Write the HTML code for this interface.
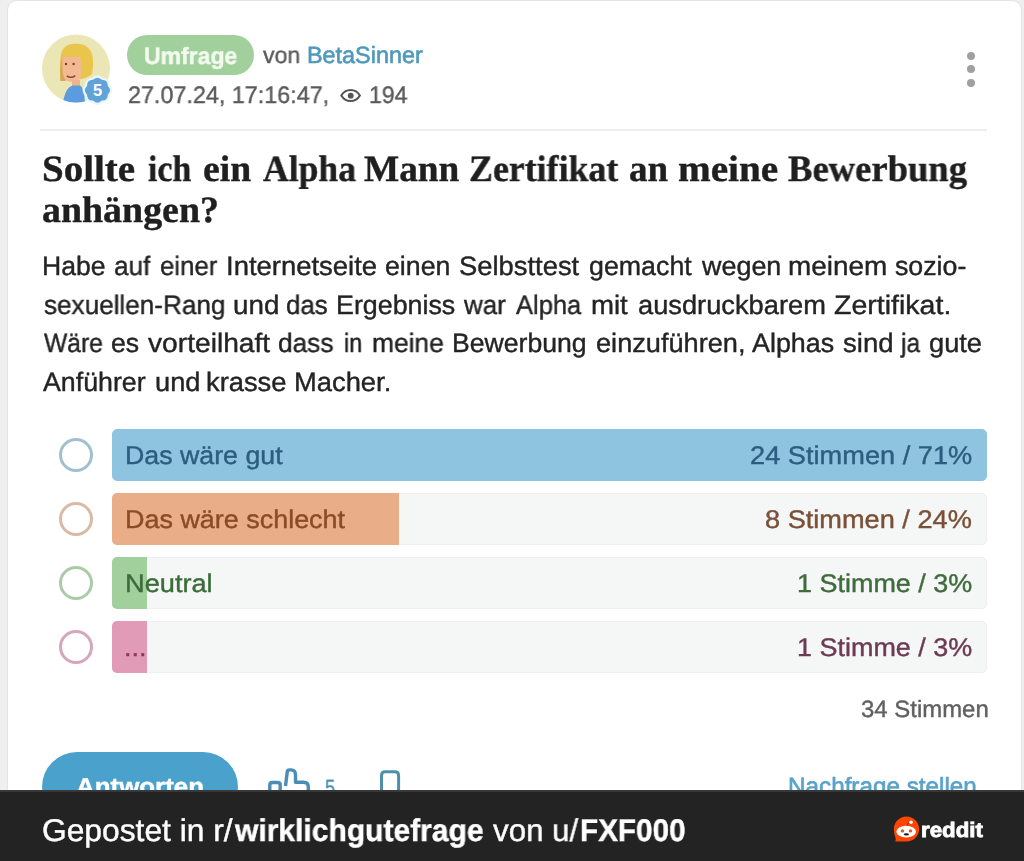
<!DOCTYPE html>
<html><head><meta charset="utf-8">
<style>
*{margin:0;padding:0;box-sizing:border-box}
html,body{width:1024px;height:861px;overflow:hidden;background:#efefef;font-family:"Liberation Sans",sans-serif;-webkit-font-smoothing:antialiased}
.abs{position:absolute;white-space:nowrap}
#card{position:absolute;left:7px;top:0px;width:1015px;height:900px;background:#fff;border:1px solid #e4e4e4;border-radius:10px}
.pill{position:absolute;left:127px;top:35px;width:127px;height:40px;border-radius:20px;background:#a2d09d}
.t{position:absolute;white-space:nowrap;line-height:1;transform-origin:0 0;will-change:transform;-webkit-text-stroke-width:0.4px;text-rendering:geometricPrecision}
.sep{position:absolute;left:40px;top:129px;width:947px;height:2px;background:#ededed}
.bar{position:absolute;left:112px;width:875px;height:52px;border-radius:5px;background:#f5f6f6;border:1px solid #efefef}
.fill{position:absolute;left:112px;height:52px;border-radius:5px 0 0 5px}
.circ{position:absolute;left:59px;width:34px;height:34px;border-radius:50%;border:3px solid}
.dot{position:absolute;left:967px;width:8px;height:8px;border-radius:50%;background:#a0a0a0}
#bottom{position:absolute;left:0;top:790px;width:1024px;height:71px;background:#232323;border-top:2px solid #383838;z-index:5}
#t_bot,#t_red,#rlogo{z-index:6}
</style></head><body>
<div id="card"></div>

<!-- avatar -->
<svg class="abs" style="left:40px;top:33px" width="74" height="74" viewBox="40 33 74 74">
  <defs><clipPath id="cc"><circle cx="76" cy="68.5" r="34"/></clipPath></defs>
  <circle cx="76" cy="68.5" r="34" fill="#ebe6b6"/>
  <g clip-path="url(#cc)">
  <path d="M60.5 81 C59.5 70 59.5 58 62 51 C65 45 71 43.5 77 43.8 C85 44 91 48 92.5 56 C93.5 62 93 69 92 74 C89 77 85 78 81 79 Z" fill="#e9c54c"/>
  <path d="M60.5 81 C60 72 60.5 62 62.5 57 L64 58 C63 66 63.5 74 65.5 81 Z" fill="#d5a655"/>
  <path d="M62.5 57 L80 57 C81.5 63 82 70 81 76 C79.5 80 76 82 72 82 C67 82 63.5 79 62.8 73 C62.3 68 62.2 62 62.5 57 Z" fill="#f2b995"/>
  <rect x="72" y="80" width="8" height="7" fill="#eeb48e"/>
  <path d="M63 104 C64 94 67 87 73 85.5 L80 85.5 C83 87 84.5 93 85 104 Z" fill="#5b9be0"/>
  <circle cx="66" cy="64" r="1.2" fill="#7a4028"/>
  <circle cx="73.6" cy="64" r="1.2" fill="#7a4028"/>
  <path d="M66.8 75.8 Q71 79 75.2 75.6" stroke="#8b4a2a" stroke-width="1.5" fill="none"/>
  </g>
  <!-- badge -->
  <path d="M102.15 78.74 Q108.71 78.89 108.86 85.45 Q113.40 90.20 108.86 94.95 Q108.71 101.51 102.15 101.66 Q97.40 106.20 92.65 101.66 Q86.09 101.51 85.94 94.95 Q81.40 90.20 85.94 85.45 Q86.09 78.89 92.65 78.74 Q97.40 74.20 102.15 78.74Z" stroke-linejoin="round" fill="#5fa3d8" stroke="#eaf6fc" stroke-width="2.2"/>
  <text x="97.5" y="96.4" text-anchor="middle" font-family="Liberation Sans" font-weight="bold" font-size="16.5" fill="#fff">5</text>
</svg>

<div class="pill"></div>
<svg class="abs" style="left:335px;top:85px" width="30" height="22" viewBox="335 85 30 22">
  <path d="M341.3 95.6 C343.5 91.8 346.8 90.1 350.6 90.1 C354.4 90.1 357.7 91.8 359.9 95.6 C357.7 99.4 354.4 101.1 350.6 101.1 C346.8 101.1 343.5 99.4 341.3 95.6Z" fill="none" stroke="#555" stroke-width="2"/>
  <circle cx="350.7" cy="95.7" r="2.9" fill="#555"/>
</svg>

<!-- kebab -->
<div class="dot" style="top:51.5px"></div>
<div class="dot" style="top:65.4px"></div>
<div class="dot" style="top:79px"></div>

<div class="sep"></div>

<!-- poll -->
<div class="circ" style="top:438px;border-color:#9fc0d1"></div>
<div class="bar" style="top:429px;background:#8fc4e1;border-color:#8fc4e1"></div>

<div class="circ" style="top:502px;border-color:#dbbaa4"></div>
<div class="bar" style="top:493px"></div>
<div class="fill" style="top:493px;width:287px;background:#e9ae88"></div>

<div class="circ" style="top:566px;border-color:#aacba7"></div>
<div class="bar" style="top:557px"></div>
<div class="fill" style="top:557px;width:35px;background:#a1d09c"></div>

<div class="circ" style="top:630px;border-color:#d6a6ba"></div>
<div class="bar" style="top:621px"></div>
<div class="fill" style="top:621px;width:35px;background:#e19bb6"></div>

<!-- actions -->
<div class="abs" style="left:42px;top:752px;width:196px;height:70px;border-radius:35px;background:#4aa1cc"></div>
<svg class="abs" style="left:260px;top:760px" width="60" height="32" viewBox="260 760 60 32">
  <path d="M269.8 792 L269.8 785 Q269.8 782.5 272.5 782.5 L277.5 782.5 Q280.2 782.5 280.2 785 L280.2 792" fill="none" stroke="#4a8db5" stroke-width="3.4"/>
  <path d="M285.5 786 L287.3 771.5 Q287.5 769.9 289.5 769.9 L291 769.9 Q295.5 769.9 295.5 775 L295.5 782.3 L303.5 782.3 Q308.3 782.3 308.3 787 L308.3 792" fill="none" stroke="#4a8db5" stroke-width="3.4" stroke-linejoin="round"/>
</svg>
<svg class="abs" style="left:375px;top:765px" width="30" height="27" viewBox="375 765 30 27">
  <path d="M381.5 792 L381.5 775.5 Q381.5 771.7 385.3 771.7 L394.8 771.7 Q398.6 771.7 398.6 775.5 L398.6 792" fill="none" stroke="#4f8fae" stroke-width="3"/>
</svg>

<div id="bottom"></div>
<svg id="rlogo" class="abs" style="left:888px;top:810px" width="38" height="36" viewBox="888 810 38 36">
  <path d="M906.5 816.4 C913.5 816.4 919.1 822 919.1 829 C919.1 836 913.5 841.6 906.5 841.6 L895.2 841.6 Q896 839.5 895.5 837.5 C894.4 835 893.9 832 893.9 829 C893.9 822 899.5 816.4 906.5 816.4 Z" fill="#ff4500"/>
  <path d="M906.5 826.5 L908 823 L910.5 822.6" stroke="#a02a00" stroke-width="1" fill="none"/>
  <ellipse cx="906.2" cy="831.7" rx="9.8" ry="5.9" fill="#fff"/>
  <circle cx="902.4" cy="830.9" r="1.7" fill="#e0502a"/>
  <circle cx="910.4" cy="830.9" r="1.7" fill="#e0502a"/>
  <ellipse cx="906.4" cy="834.4" rx="2.6" ry="1.1" fill="#1a1a1a"/>
  <circle cx="911" cy="822.3" r="1.8" fill="#fff"/>
</svg>

<div id="t_umf" class="t" style="left:144.04px;top:46.00px;font-size:23.60px;transform:scaleX(0.9746);font-weight:bold;color:#f3fbef">Umfrage</div>
<div id="t_von1" class="t" style="left:263.09px;top:44.00px;font-size:23.40px;transform:scaleX(0.9838);color:#5a5a5a">von</div>
<div id="t_von2" class="t" style="left:307.03px;top:44.00px;font-size:23.40px;transform:scaleX(0.9979);color:#4f99bb;-webkit-text-stroke:0.6px #4f99bb">BetaSinner</div>
<div id="t_date" class="t" style="left:127.81px;top:84.00px;font-size:23.90px;transform:scaleX(0.9768);color:#5a5a5a">27.07.24, 17:16:47,</div>
<div id="t_194" class="t" style="left:368.64px;top:84.00px;font-size:23.90px;transform:scaleX(0.9666);color:#5a5a5a">194</div>
<div id="t_ti1_w0" class="t" style="left:42.02px;top:151.00px;font-size:37.00px;transform:scaleX(1.0542);font-family:Liberation Serif,serif;font-weight:bold;color:#1f1f1f">Sollte</div>
<div id="t_ti1_w1" class="t" style="left:148.28px;top:151.00px;font-size:37.00px;transform:scaleX(0.9148);font-family:Liberation Serif,serif;font-weight:bold;color:#1f1f1f">ich</div>
<div id="t_ti1_w2" class="t" style="left:203.47px;top:151.00px;font-size:37.00px;transform:scaleX(1.0190);font-family:Liberation Serif,serif;font-weight:bold;color:#1f1f1f">ein</div>
<div id="t_ti1_w3" class="t" style="left:262.50px;top:151.00px;font-size:37.00px;transform:scaleX(0.9620);font-family:Liberation Serif,serif;font-weight:bold;color:#1f1f1f">Alpha</div>
<div id="t_ti1_w4" class="t" style="left:363.50px;top:151.00px;font-size:37.00px;transform:scaleX(1.0082);font-family:Liberation Serif,serif;font-weight:bold;color:#1f1f1f">Mann</div>
<div id="t_ti1_w5" class="t" style="left:469.33px;top:151.00px;font-size:37.00px;transform:scaleX(0.9687);font-family:Liberation Serif,serif;font-weight:bold;color:#1f1f1f">Zertifikat</div>
<div id="t_ti1_w6" class="t" style="left:628.69px;top:151.00px;font-size:37.00px;transform:scaleX(0.9986);font-family:Liberation Serif,serif;font-weight:bold;color:#1f1f1f">an</div>
<div id="t_ti1_w7" class="t" style="left:677.67px;top:151.00px;font-size:37.00px;transform:scaleX(1.0606);font-family:Liberation Serif,serif;font-weight:bold;color:#1f1f1f">meine</div>
<div id="t_ti1_w8" class="t" style="left:788.10px;top:151.00px;font-size:37.00px;transform:scaleX(0.9894);font-family:Liberation Serif,serif;font-weight:bold;color:#1f1f1f">Bewerbung</div>
<div id="t_ti2" class="t" style="left:42.02px;top:192.00px;font-size:37.00px;transform:scaleX(1.0243);font-family:Liberation Serif,serif;font-weight:bold;color:#1f1f1f">anhängen?</div>
<div id="t_b1_w0" class="t" style="left:41.72px;top:253.00px;font-size:26.60px;transform:scaleX(0.9958);color:#242424">Habe</div>
<div id="t_b1_w1" class="t" style="left:113.50px;top:253.00px;font-size:26.60px;transform:scaleX(0.9863);color:#242424">auf</div>
<div id="t_b1_w2" class="t" style="left:159.89px;top:253.00px;font-size:26.60px;transform:scaleX(0.9701);color:#242424">einer</div>
<div id="t_b1_w3" class="t" style="left:226.47px;top:253.00px;font-size:26.60px;transform:scaleX(1.0325);color:#242424">Internetseite</div>
<div id="t_b1_w4" class="t" style="left:384.72px;top:253.00px;font-size:26.60px;transform:scaleX(1.0044);color:#242424">einen</div>
<div id="t_b1_w5" class="t" style="left:458.88px;top:253.00px;font-size:26.60px;transform:scaleX(1.0290);color:#242424">Selbsttest</div>
<div id="t_b1_w6" class="t" style="left:589.09px;top:253.00px;font-size:26.60px;transform:scaleX(1.0073);color:#242424">gemacht</div>
<div id="t_b1_w7" class="t" style="left:701.88px;top:253.00px;font-size:26.60px;transform:scaleX(1.0124);color:#242424">wegen</div>
<div id="t_b1_w8" class="t" style="left:788.28px;top:253.00px;font-size:26.60px;transform:scaleX(1.0494);color:#242424">meinem</div>
<div id="t_b1_w9" class="t" style="left:894.50px;top:253.00px;font-size:26.60px;transform:scaleX(1.0051);color:#242424">sozio-</div>
<div id="t_b2_w0" class="t" style="left:43.70px;top:292.00px;font-size:26.60px;transform:scaleX(0.9817);color:#242424">sexuellen-Rang</div>
<div id="t_b2_w1" class="t" style="left:233.06px;top:292.00px;font-size:26.60px;transform:scaleX(1.0445);color:#242424">und</div>
<div id="t_b2_w2" class="t" style="left:286.31px;top:292.00px;font-size:26.60px;transform:scaleX(0.9743);color:#242424">das</div>
<div id="t_b2_w3" class="t" style="left:335.89px;top:292.00px;font-size:26.60px;transform:scaleX(1.0086);color:#242424">Ergebniss</div>
<div id="t_b2_w4" class="t" style="left:464.28px;top:292.00px;font-size:26.60px;transform:scaleX(0.9757);color:#242424">war</div>
<div id="t_b2_w5" class="t" style="left:516.09px;top:292.00px;font-size:26.60px;transform:scaleX(0.9581);color:#242424">Alpha</div>
<div id="t_b2_w6" class="t" style="left:591.47px;top:292.00px;font-size:26.60px;transform:scaleX(1.0376);color:#242424">mit</div>
<div id="t_b2_w7" class="t" style="left:637.88px;top:292.00px;font-size:26.60px;transform:scaleX(1.0248);color:#242424">ausdruckbarem</div>
<div id="t_b2_w8" class="t" style="left:834.48px;top:292.00px;font-size:26.60px;transform:scaleX(1.0728);color:#242424">Zertifikat.</div>
<div id="t_b3_w0" class="t" style="left:43.69px;top:330.00px;font-size:26.60px;transform:scaleX(0.9262);color:#242424">Wäre</div>
<div id="t_b3_w1" class="t" style="left:110.53px;top:330.00px;font-size:26.60px;transform:scaleX(0.9860);color:#242424">es</div>
<div id="t_b3_w2" class="t" style="left:147.89px;top:330.00px;font-size:26.60px;transform:scaleX(1.0596);color:#242424">vorteilhaft</div>
<div id="t_b3_w3" class="t" style="left:278.32px;top:330.00px;font-size:26.60px;transform:scaleX(0.9865);color:#242424">dass</div>
<div id="t_b3_w4" class="t" style="left:343.82px;top:330.00px;font-size:26.60px;transform:scaleX(0.8748);color:#242424">in</div>
<div id="t_b3_w5" class="t" style="left:372.30px;top:330.00px;font-size:26.60px;transform:scaleX(0.9904);color:#242424">meine</div>
<div id="t_b3_w6" class="t" style="left:452.10px;top:330.00px;font-size:26.60px;transform:scaleX(1.0004);color:#242424">Bewerbung</div>
<div id="t_b3_w7" class="t" style="left:595.87px;top:330.00px;font-size:26.60px;transform:scaleX(1.0214);color:#242424">einzuführen,</div>
<div id="t_b3_w8" class="t" style="left:752.09px;top:330.00px;font-size:26.60px;transform:scaleX(1.0101);color:#242424">Alphas</div>
<div id="t_b3_w9" class="t" style="left:842.50px;top:330.00px;font-size:26.60px;transform:scaleX(1.0357);color:#242424">sind</div>
<div id="t_b3_w10" class="t" style="left:900.80px;top:330.00px;font-size:26.60px;transform:scaleX(0.9192);color:#242424">ja</div>
<div id="t_b3_w11" class="t" style="left:928.68px;top:330.00px;font-size:26.60px;transform:scaleX(1.0242);color:#242424">gute</div>
<div id="t_b4_w0" class="t" style="left:43.29px;top:369.00px;font-size:26.60px;transform:scaleX(1.0058);color:#242424">Anführer</div>
<div id="t_b4_w1" class="t" style="left:154.66px;top:369.00px;font-size:26.60px;transform:scaleX(1.0244);color:#242424">und</div>
<div id="t_b4_w2" class="t" style="left:206.48px;top:369.00px;font-size:26.60px;transform:scaleX(1.0269);color:#242424">krasse</div>
<div id="t_b4_w3" class="t" style="left:293.65px;top:369.00px;font-size:26.60px;transform:scaleX(1.0280);color:#242424">Macher.</div>
<div id="t_p1l" class="t" style="left:125.37px;top:444.00px;font-size:25.50px;transform:scaleX(1.0492);color:#2c5d7e">Das wäre gut</div>
<div id="t_p1r" class="t" style="left:750.16px;top:444.00px;font-size:25.50px;transform:scaleX(1.0668);color:#2c5d7e">24 Stimmen / 71%</div>
<div id="t_p2l" class="t" style="left:125.36px;top:508.00px;font-size:25.50px;transform:scaleX(1.0562);color:#8a4b27">Das wäre schlecht</div>
<div id="t_p2r" class="t" style="left:765.16px;top:508.00px;font-size:25.50px;transform:scaleX(1.0652);color:#7a5038">8 Stimmen / 24%</div>
<div id="t_p3l" class="t" style="left:125.34px;top:572.00px;font-size:25.50px;transform:scaleX(1.0663);color:#3b6b39">Neutral</div>
<div id="t_p3r" class="t" style="left:796.93px;top:572.00px;font-size:25.50px;transform:scaleX(1.0570);color:#3f6b3d">1 Stimme / 3%</div>
<div id="t_p4l" class="t" style="left:124.48px;top:636.00px;font-size:25.50px;transform:scaleX(1.0598);color:#8a3a5b">...</div>
<div id="t_p4r" class="t" style="left:796.93px;top:636.00px;font-size:25.50px;transform:scaleX(1.0570);color:#6e3a52">1 Stimme / 3%</div>
<div id="t_tot" class="t" style="left:860.58px;top:699.00px;font-size:23.60px;transform:scaleX(1.0147);color:#606060">34 Stimmen</div>
<div id="t_ant" class="t" style="left:75.59px;top:776.00px;font-size:24.50px;transform:scaleX(1.0570);font-weight:bold;color:#fff">Antworten</div>
<div id="t_5" class="t" style="left:325.04px;top:777.00px;font-size:22.00px;transform:scaleX(0.8264);color:#4b8fb6">5</div>
<div id="t_nach" class="t" style="left:788.36px;top:775.00px;font-size:23.50px;transform:scaleX(1.0322);color:#5aa2c9;-webkit-text-stroke:0.6px #5aa2c9">Nachfrage stellen</div>
<div id="t_bot1" class="t" style="left:41.53px;top:815.00px;font-size:31.40px;transform:scaleX(1.0117);color:#fff;z-index:6">Gepostet in r/</div>
<div id="t_bot2" class="t" style="left:234.78px;top:815.00px;font-size:31.40px;transform:scaleX(0.9564);color:#fff;font-weight:bold;z-index:6">wirklichgutefrage</div>
<div id="t_bot3" class="t" style="left:493.09px;top:815.00px;font-size:31.40px;transform:scaleX(0.9965);color:#fff;z-index:6">von u/</div>
<div id="t_bot4" class="t" style="left:580.41px;top:815.00px;font-size:31.40px;transform:scaleX(0.9455);color:#fff;font-weight:bold;z-index:6">FXF000</div>
<div id="t_red" class="t" style="left:921.13px;top:820.00px;font-size:21.00px;transform:scaleX(1.0618);font-weight:bold;color:#fff;-webkit-text-stroke:0.8px #fff">reddit</div>
</body></html>
